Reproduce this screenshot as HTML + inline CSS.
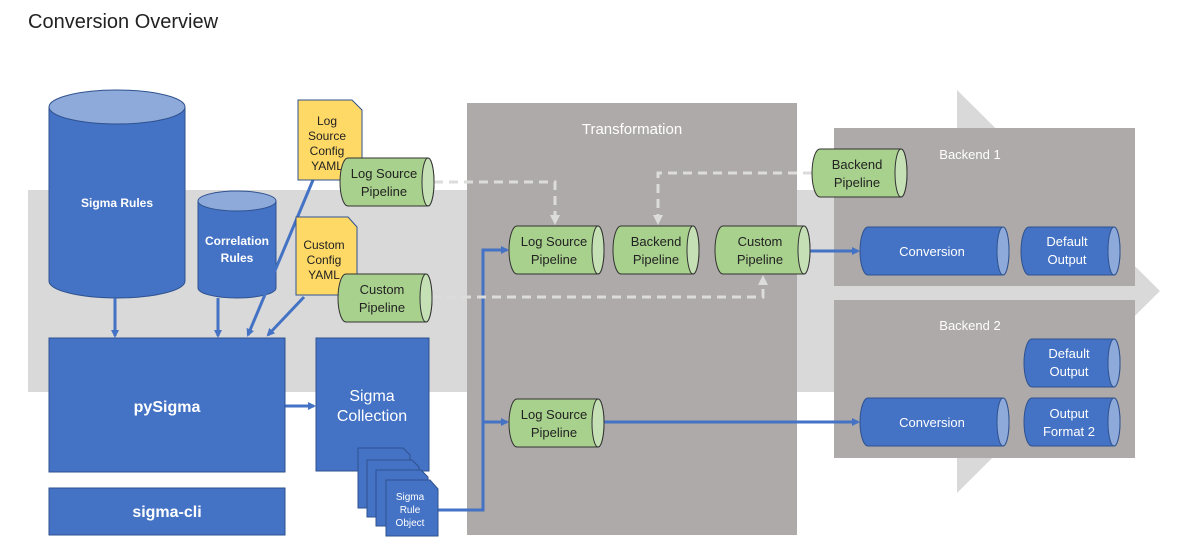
<!DOCTYPE html>
<html><head><meta charset="utf-8"><style>
body{margin:0;background:#fff;}
svg{display:block;font-family:"Liberation Sans",sans-serif;}
</style></head><body>
<svg width="1179" height="552" viewBox="0 0 1179 552" xmlns="http://www.w3.org/2000/svg">
<defs>
<marker id="ab" markerWidth="8" markerHeight="8" refX="6" refY="4" orient="auto" markerUnits="userSpaceOnUse"><path d="M0,0 L8,4 L0,8 z" fill="#4472c4"/></marker>
<marker id="aw" markerWidth="10" markerHeight="10" refX="7" refY="5" orient="auto" markerUnits="userSpaceOnUse"><path d="M0,0 L10,5 L0,10 z" fill="#dcdcdc"/></marker>
</defs>
<text x="28" y="28" font-size="20" fill="#222">Conversion Overview</text>
<!-- big arrow -->
<path d="M28,190 H957 V90 L1160,291 L957,493 V392 H28 Z" fill="#d9d9d9"/>
<!-- transformation -->
<rect x="467" y="103" width="330" height="432" fill="#aeaaa9"/>
<text x="632" y="134" font-size="15" fill="#fff" text-anchor="middle">Transformation</text>
<rect x="834" y="128" width="301" height="158" fill="#aeaaa9"/>
<text x="970" y="159" font-size="13" fill="#fff" text-anchor="middle">Backend 1</text>
<rect x="834" y="300" width="301" height="158" fill="#aeaaa9"/>
<text x="970" y="330" font-size="13" fill="#fff" text-anchor="middle">Backend 2</text>

<!-- Sigma Rules cylinder -->
<path d="M49,107 V281 A68,17 0 0 0 185,281 V107" fill="#4472c4" stroke="#2f528f"/>
<ellipse cx="117" cy="107" rx="68" ry="17" fill="#8eaadb" stroke="#2f528f"/>
<text x="117" y="207" font-size="12" font-weight="bold" fill="#fff" text-anchor="middle">Sigma Rules</text>
<!-- Correlation -->
<path d="M198,201 V288 A39,10 0 0 0 276,288 V201" fill="#4472c4" stroke="#2f528f"/>
<ellipse cx="237" cy="201" rx="39" ry="10" fill="#8eaadb" stroke="#2f528f"/>
<text x="237" y="245" font-size="12" fill="#fff" text-anchor="middle" font-weight="bold">Correlation</text>
<text x="237" y="262" font-size="12" fill="#fff" text-anchor="middle" font-weight="bold">Rules</text>

<!-- connectors blue -->
<g stroke="#4472c4" stroke-width="3" fill="none">
<line x1="115" y1="298" x2="115" y2="336" marker-end="url(#ab)"/>
<line x1="218" y1="298" x2="218" y2="336" marker-end="url(#ab)"/>
<line x1="313" y1="180" x2="248" y2="335" marker-end="url(#ab)"/>
<line x1="304" y1="297" x2="268" y2="335" marker-end="url(#ab)"/>
<line x1="285" y1="406" x2="314" y2="406" marker-end="url(#ab)"/>
<polyline points="438,510 483,510 483,250 507,250" marker-end="url(#ab)"/>
<line x1="483" y1="422" x2="507" y2="422" marker-end="url(#ab)"/>
<line x1="810" y1="251" x2="858" y2="251" marker-end="url(#ab)"/>
<line x1="604" y1="422" x2="858" y2="422" marker-end="url(#ab)"/>
</g>
<!-- dashed -->
<g stroke="#dcdcdc" stroke-width="3" fill="none" stroke-dasharray="9,6">
<polyline points="434,182 555,182 555,222" marker-end="url(#aw)"/>
<polyline points="812,173 658,173 658,222" marker-end="url(#aw)"/>
<polyline points="432,297 763,297 763,278" marker-end="url(#aw)"/>
</g>

<!-- docs -->
<path d="M298,100 H352 L362,110 V180 H298 Z" fill="#ffd966" stroke="#2f528f"/>
<g font-size="12" fill="#222" text-anchor="middle"><text x="327" y="125">Log</text><text x="327" y="140">Source</text><text x="327" y="155">Config</text><text x="327" y="170">YAML</text></g>
<path d="M296,217 H348 L357,227 V295 H296 Z" fill="#ffd966" stroke="#2f528f"/>
<g font-size="12" fill="#222" text-anchor="middle"><text x="324" y="249">Custom</text><text x="324" y="264">Config</text><text x="324" y="279">YAML</text></g>

<!-- boxes -->
<rect x="49" y="338" width="236" height="134" fill="#4472c4" stroke="#2f528f"/>
<text x="167" y="412" font-size="16" fill="#fff" text-anchor="middle" font-weight="bold">pySigma</text>
<rect x="49" y="488" width="236" height="47" fill="#4472c4" stroke="#2f528f"/>
<text x="167" y="517" font-size="16" fill="#fff" text-anchor="middle" font-weight="bold">sigma-cli</text>
<rect x="316" y="338" width="113" height="133" fill="#4472c4" stroke="#2f528f"/>
<text x="372" y="401" font-size="16" fill="#fff" text-anchor="middle">Sigma</text>
<text x="372" y="421" font-size="16" fill="#fff" text-anchor="middle">Collection</text>
<g fill="#4472c4" stroke="#2f528f">
<path d="M358,448 H403 L410,455 V508 H358 Z"/>
<path d="M367,460 H412 L419,467 V517 H367 Z"/>
<path d="M376,470 H421 L428,477 V526 H376 Z"/>
<path d="M386,480 H430 L438,489 V536 H386 Z"/>
</g>
<g font-size="10" fill="#fff" text-anchor="middle"><text x="410" y="500">Sigma</text><text x="410" y="513">Rule</text><text x="410" y="526">Object</text></g>

<!-- green cylinders -->
<g stroke="#333" stroke-width="1">
<path d="M348,158 H428 A6,24 0 0 1 428,206 H348 A8,24 0 0 1 348,158 Z" fill="#a9d18e"/><ellipse cx="428" cy="182" rx="6" ry="24" fill="#c5e0b4"/>
<path d="M346,274 H426 A6,24 0 0 1 426,322 H346 A8,24 0 0 1 346,274 Z" fill="#a9d18e"/><ellipse cx="426" cy="298" rx="6" ry="24" fill="#c5e0b4"/>
<path d="M517,226 H598 A6,24 0 0 1 598,274 H517 A8,24 0 0 1 517,226 Z" fill="#a9d18e"/><ellipse cx="598" cy="250" rx="6" ry="24" fill="#c5e0b4"/>
<path d="M621,226 H693 A6,24 0 0 1 693,274 H621 A8,24 0 0 1 621,226 Z" fill="#a9d18e"/><ellipse cx="693" cy="250" rx="6" ry="24" fill="#c5e0b4"/>
<path d="M723,226 H804 A6,24 0 0 1 804,274 H723 A8,24 0 0 1 723,226 Z" fill="#a9d18e"/><ellipse cx="804" cy="250" rx="6" ry="24" fill="#c5e0b4"/>
<path d="M517,399 H598 A6,24 0 0 1 598,447 H517 A8,24 0 0 1 517,399 Z" fill="#a9d18e"/><ellipse cx="598" cy="423" rx="6" ry="24" fill="#c5e0b4"/>
<path d="M820,149 H901 A6,24 0 0 1 901,197 H820 A8,24 0 0 1 820,149 Z" fill="#a9d18e"/><ellipse cx="901" cy="173" rx="6" ry="24" fill="#c5e0b4"/>
</g>
<g font-size="13" fill="#222" text-anchor="middle">
<text x="384" y="178">Log Source</text><text x="384" y="196">Pipeline</text>
<text x="382" y="294">Custom</text><text x="382" y="312">Pipeline</text>
<text x="554" y="246">Log Source</text><text x="554" y="264">Pipeline</text>
<text x="656" y="246">Backend</text><text x="656" y="264">Pipeline</text>
<text x="760" y="246">Custom</text><text x="760" y="264">Pipeline</text>
<text x="554" y="419">Log Source</text><text x="554" y="437">Pipeline</text>
<text x="857" y="169">Backend</text><text x="857" y="187">Pipeline</text>
</g>
<!-- blue cylinders -->
<g stroke="#2f528f" stroke-width="1">
<path d="M868,227 H1003 A6,24 0 0 1 1003,275 H868 A8,24 0 0 1 868,227 Z" fill="#4472c4"/><ellipse cx="1003" cy="251" rx="6" ry="24" fill="#8eaadb"/>
<path d="M1029,227 H1114 A6,24 0 0 1 1114,275 H1029 A8,24 0 0 1 1029,227 Z" fill="#4472c4"/><ellipse cx="1114" cy="251" rx="6" ry="24" fill="#8eaadb"/>
<path d="M1032,339 H1114 A6,24 0 0 1 1114,387 H1032 A8,24 0 0 1 1032,339 Z" fill="#4472c4"/><ellipse cx="1114" cy="363" rx="6" ry="24" fill="#8eaadb"/>
<path d="M868,398 H1003 A6,24 0 0 1 1003,446 H868 A8,24 0 0 1 868,398 Z" fill="#4472c4"/><ellipse cx="1003" cy="422" rx="6" ry="24" fill="#8eaadb"/>
<path d="M1032,398 H1114 A6,24 0 0 1 1114,446 H1032 A8,24 0 0 1 1032,398 Z" fill="#4472c4"/><ellipse cx="1114" cy="422" rx="6" ry="24" fill="#8eaadb"/>
</g>
<g font-size="13" fill="#fff" text-anchor="middle">
<text x="932" y="256">Conversion</text>
<text x="1067" y="246">Default</text><text x="1067" y="264">Output</text>
<text x="1069" y="358">Default</text><text x="1069" y="376">Output</text>
<text x="932" y="427">Conversion</text>
<text x="1069" y="418">Output</text><text x="1069" y="436">Format 2</text>
</g>
</svg>
</body></html>
